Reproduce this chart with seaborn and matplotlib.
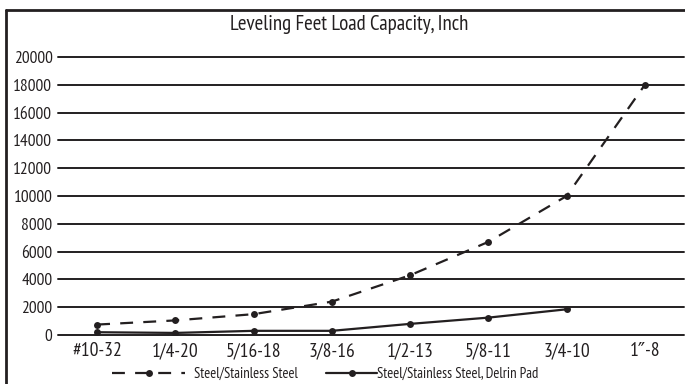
import matplotlib
matplotlib.use("Agg")
import matplotlib.pyplot as plt
import seaborn as sns
import pandas as pd
from matplotlib.lines import Line2D

sizes = ["#10-32", "1/4-20", "5/16-18", "3/8-16", "1/2-13", "5/8-11", "3/4-10", "1\u2033-8"]
steel = [750, 1050, 1500, 2400, 4300, 6700, 10000, 18000]
delrin = [200, 150, 300, 300, 800, 1250, 1850]
y_ticks = [0, 2000, 4000, 6000, 8000, 10000, 12000, 14000, 16000, 18000, 20000]

INK = "#231f20"
W, H = 685, 384
DASH = [5.8, 4.6]

sns.set_theme(style="white")
plt.rcParams["font.family"] = ["PT Sans Narrow", "DejaVu Sans"]

df_steel = pd.DataFrame({"x": range(len(steel)), "y": steel})
df_delrin = pd.DataFrame({"x": range(len(delrin)), "y": delrin})

fig = plt.figure(figsize=(6.85, 3.84), dpi=100)
ax = fig.add_axes([58 / W, 49 / H, (684 - 58) / W, (335 - 57) / H])

for yv in y_ticks:
    ax.axhline(yv, color=INK, lw=1.4, zorder=1, clip_on=False)

sns.lineplot(data=df_steel, x="x", y="y", ax=ax, color=INK, lw=1.6,
             marker="o", markersize=5, markeredgewidth=0, zorder=3)
ax.lines[-1].set_dashes(DASH)
sns.lineplot(data=df_delrin, x="x", y="y", ax=ax, color=INK, lw=1.6,
             marker="o", markersize=5, markeredgewidth=0, zorder=3)

ax.set_xlim(-0.5, len(sizes) - 0.5)
ax.set_ylim(0, 20000)
ax.set_xticks(range(len(sizes)))
ax.set_xticklabels(sizes, fontsize=14, color=INK)
ax.set_yticks(y_ticks)
ax.set_yticklabels([str(v) for v in y_ticks], fontsize=12.5, color=INK)
ax.tick_params(axis="y", length=0, pad=4)
ax.tick_params(axis="x", length=0, pad=5)
ax.set_xlabel("")
ax.set_ylabel("")
for s in ax.spines.values():
    s.set_visible(False)

fig.text(349 / W, 1 - 24 / H, "Leveling Feet Load Capacity, Inch",
         ha="center", va="center", fontsize=15, color=INK)

# frame along the top and left edges
fig.add_artist(Line2D([6 / W, 1.0], [1 - 10 / H, 1 - 10 / H], transform=fig.transFigure,
                      color=INK, lw=2))
fig.add_artist(Line2D([6 / W, 6 / W], [0, 1 - 10 / H], transform=fig.transFigure,
                      color=INK, lw=2))

h1 = Line2D([], [], color=INK, lw=1.6, dashes=DASH, marker="o",
            markersize=5, markeredgewidth=0)
h2 = Line2D([], [], color=INK, lw=1.6, marker="o",
            markersize=5, markeredgewidth=0)
fig.legend([h1], ["Steel/Stainless Steel"], loc="center left",
           bbox_to_anchor=(99 / W, 1 - 374 / H), frameon=False, fontsize=10.5,
           handlelength=5.0, handletextpad=0.6, labelcolor=INK)
fig.legend([h2], ["Steel/Stainless Steel, Delrin Pad"], loc="center left",
           bbox_to_anchor=(313 / W, 1 - 374 / H), frameon=False, fontsize=10.5,
           handlelength=3.5, handletextpad=0.0, labelcolor=INK)

fig.savefig("out.png", dpi=100)
